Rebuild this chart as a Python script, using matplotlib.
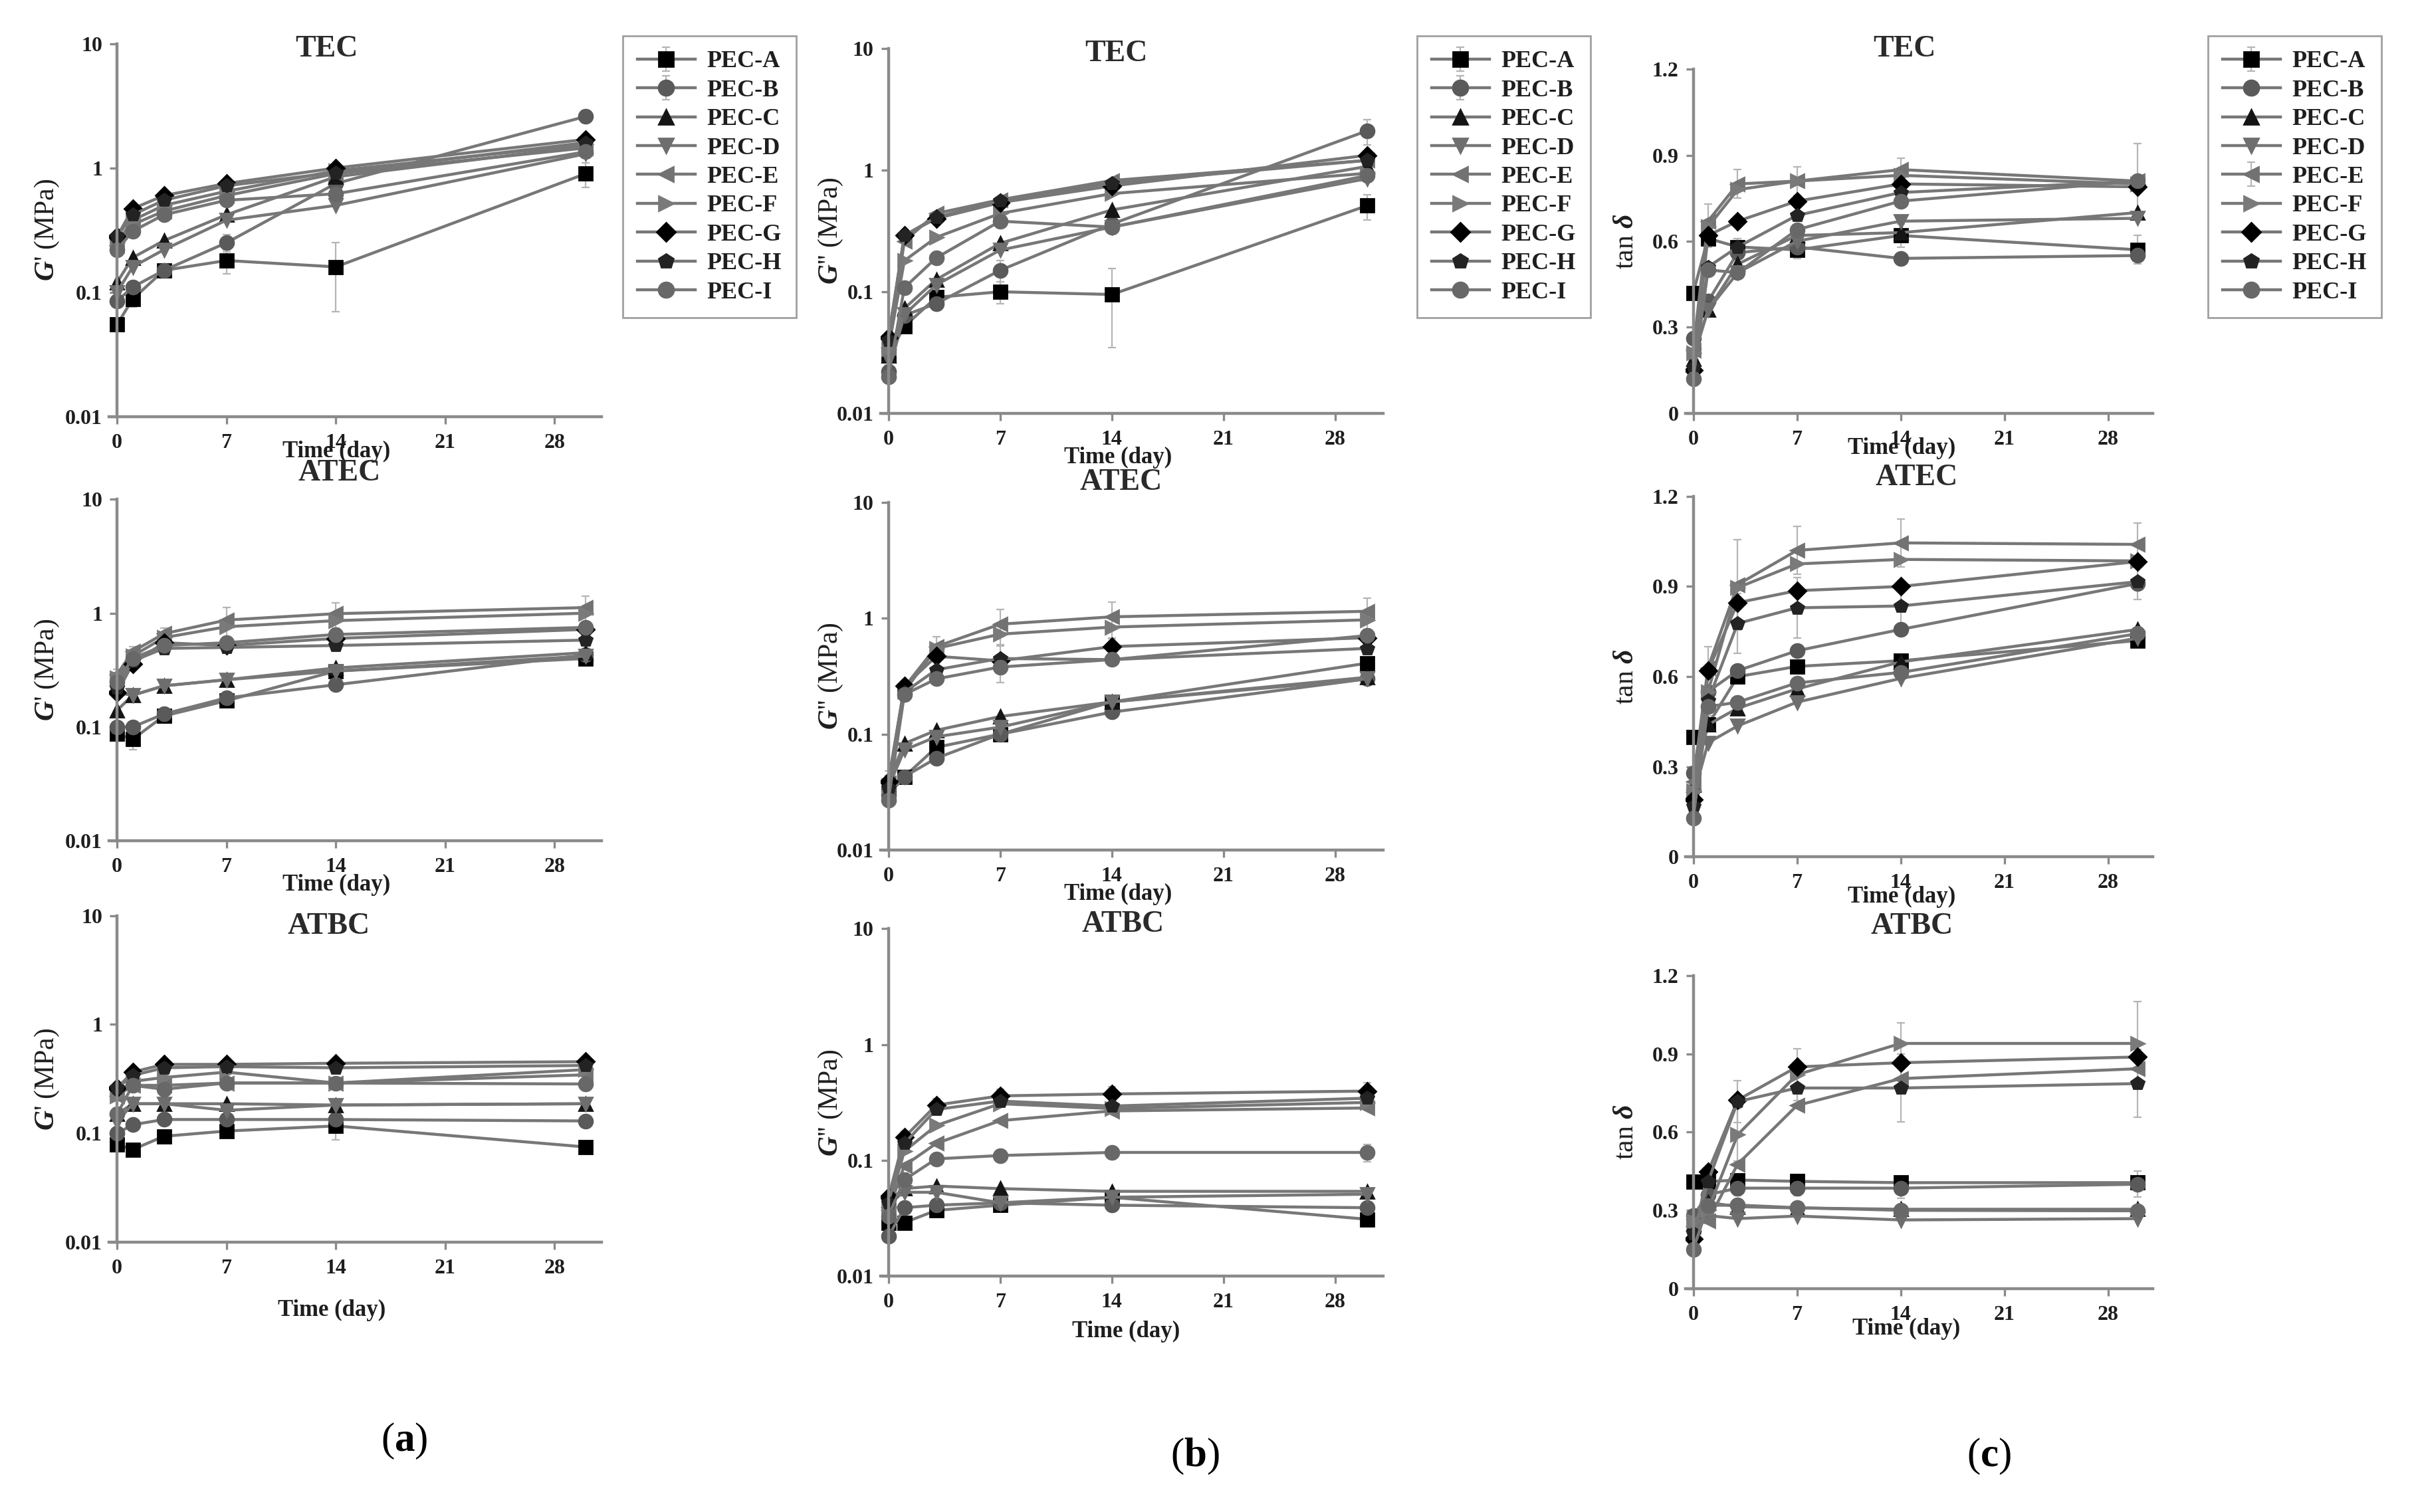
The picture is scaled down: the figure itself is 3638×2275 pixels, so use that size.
import numpy as np
import matplotlib.pyplot as plt
from matplotlib.ticker import NullLocator

plt.rcParams['font.family'] = ['Liberation Serif', 'DejaVu Serif']
plt.rcParams['font.weight'] = 'bold'
plt.rcParams['mathtext.fontset'] = 'custom'
plt.rcParams['mathtext.rm'] = 'Liberation Serif'
plt.rcParams['mathtext.it'] = 'Liberation Serif:italic:bold'
plt.rcParams['mathtext.bf'] = 'Liberation Serif:bold'

days = [0, 1, 3, 7, 14, 30]
series = ['PEC-A', 'PEC-B', 'PEC-C', 'PEC-D', 'PEC-E', 'PEC-F', 'PEC-G', 'PEC-H', 'PEC-I']
markers = ['s', 'o', '^', 'v', '<', '>', 'D', 'p', 'o']
marker_colors = ['#000000', '#5a5a5a', '#151515', '#6e6e6e', '#727272',
                 '#7a7a7a', '#000000', '#232323', '#686868']

# G' (MPa)
gp_tec = {
    'PEC-A': [0.055, 0.088, 0.15, 0.18, 0.16, 0.9],
    'PEC-B': [0.085, 0.11, 0.15, 0.25, 0.75, 2.6],
    'PEC-C': [0.12, 0.19, 0.26, 0.42, 0.85, 1.5],
    'PEC-D': [0.10, 0.16, 0.22, 0.38, 0.5, 1.3],
    'PEC-E': [0.24, 0.35, 0.45, 0.6, 0.9, 1.45],
    'PEC-F': [0.25, 0.38, 0.5, 0.65, 0.95, 1.55],
    'PEC-G': [0.28, 0.47, 0.6, 0.75, 1.0, 1.7],
    'PEC-H': [0.28, 0.42, 0.55, 0.72, 0.92, 1.6],
    'PEC-I': [0.22, 0.31, 0.42, 0.55, 0.62, 1.35],
}
gp_atec = {
    'PEC-A': [0.087, 0.078, 0.125, 0.17, 0.31, 0.40],
    'PEC-B': [0.10, 0.10, 0.13, 0.18, 0.235, 0.43],
    'PEC-C': [0.14, 0.19, 0.23, 0.26, 0.33, 0.45],
    'PEC-D': [0.20, 0.19, 0.23, 0.26, 0.31, 0.42],
    'PEC-E': [0.29, 0.46, 0.66, 0.87, 0.99, 1.12],
    'PEC-F': [0.27, 0.42, 0.61, 0.76, 0.86, 1.0],
    'PEC-G': [0.20, 0.36, 0.55, 0.52, 0.6, 0.72],
    'PEC-H': [0.22, 0.38, 0.49, 0.5, 0.52, 0.58],
    'PEC-I': [0.25, 0.40, 0.52, 0.55, 0.65, 0.75],
}
gp_atbc = {
    'PEC-A': [0.079, 0.071, 0.094, 0.105, 0.117, 0.075],
    'PEC-B': [0.10, 0.12, 0.134, 0.134, 0.134, 0.13],
    'PEC-C': [0.15, 0.187, 0.187, 0.187, 0.182, 0.187],
    'PEC-D': [0.127, 0.187, 0.187, 0.163, 0.182, 0.187],
    'PEC-E': [0.22, 0.276, 0.276, 0.29, 0.29, 0.345],
    'PEC-F': [0.22, 0.30, 0.326, 0.365, 0.29, 0.385],
    'PEC-G': [0.26, 0.365, 0.43, 0.43, 0.44, 0.455],
    'PEC-H': [0.26, 0.34, 0.40, 0.41, 0.40, 0.42],
    'PEC-I': [0.15, 0.276, 0.254, 0.29, 0.29, 0.284],
}

# G'' (MPa)
gpp_tec = {
    'PEC-A': [0.030, 0.052, 0.09, 0.10, 0.095, 0.51],
    'PEC-B': [0.022, 0.064, 0.08, 0.15, 0.36, 2.1],
    'PEC-C': [0.030, 0.073, 0.126, 0.25, 0.47, 1.07],
    'PEC-D': [0.028, 0.065, 0.114, 0.22, 0.34, 0.85],
    'PEC-E': [0.035, 0.26, 0.44, 0.57, 0.82, 1.2],
    'PEC-F': [0.034, 0.18, 0.28, 0.44, 0.64, 0.94],
    'PEC-G': [0.042, 0.29, 0.40, 0.54, 0.74, 1.32],
    'PEC-H': [0.040, 0.29, 0.41, 0.56, 0.78, 1.2],
    'PEC-I': [0.020, 0.108, 0.19, 0.38, 0.34, 0.9],
}
gpp_atec = {
    'PEC-A': [0.034, 0.043, 0.077, 0.10, 0.19, 0.41],
    'PEC-B': [0.030, 0.043, 0.062, 0.10, 0.155, 0.30],
    'PEC-C': [0.039, 0.083, 0.108, 0.142, 0.19, 0.31],
    'PEC-D': [0.035, 0.073, 0.095, 0.115, 0.19, 0.30],
    'PEC-E': [0.038, 0.254, 0.57, 0.89, 1.03, 1.15],
    'PEC-F': [0.036, 0.235, 0.55, 0.73, 0.84, 0.97],
    'PEC-G': [0.039, 0.26, 0.47, 0.43, 0.57, 0.68],
    'PEC-H': [0.034, 0.23, 0.36, 0.45, 0.44, 0.55],
    'PEC-I': [0.027, 0.22, 0.30, 0.38, 0.44, 0.71],
}
gpp_atbc = {
    'PEC-A': [0.029, 0.029, 0.037, 0.041, 0.048, 0.031],
    'PEC-B': [0.022, 0.039, 0.041, 0.043, 0.041, 0.039],
    'PEC-C': [0.045, 0.057, 0.060, 0.057, 0.054, 0.054],
    'PEC-D': [0.043, 0.053, 0.053, 0.043, 0.048, 0.051],
    'PEC-E': [0.037, 0.09, 0.14, 0.22, 0.267, 0.283],
    'PEC-F': [0.040, 0.12, 0.2, 0.308, 0.28, 0.316],
    'PEC-G': [0.048, 0.158, 0.3, 0.36, 0.374, 0.396],
    'PEC-H': [0.043, 0.14, 0.275, 0.325, 0.294, 0.344],
    'PEC-I': [0.033, 0.068, 0.103, 0.11, 0.117, 0.117],
}

# tan delta
tan_tec = {
    'PEC-A': [0.42, 0.61, 0.58, 0.57, 0.62, 0.57],
    'PEC-B': [0.26, 0.39, 0.56, 0.58, 0.54, 0.55],
    'PEC-C': [0.19, 0.36, 0.52, 0.62, 0.63, 0.70],
    'PEC-D': [0.20, 0.36, 0.49, 0.60, 0.67, 0.68],
    'PEC-E': [0.22, 0.67, 0.80, 0.81, 0.85, 0.81],
    'PEC-F': [0.21, 0.65, 0.78, 0.81, 0.83, 0.80],
    'PEC-G': [0.15, 0.62, 0.67, 0.74, 0.80, 0.79],
    'PEC-H': [0.16, 0.51, 0.58, 0.69, 0.77, 0.81],
    'PEC-I': [0.12, 0.50, 0.49, 0.64, 0.74, 0.81],
}
tan_atec = {
    'PEC-A': [0.40, 0.44, 0.60, 0.634, 0.653, 0.72],
    'PEC-B': [0.28, 0.55, 0.62, 0.686, 0.757, 0.91],
    'PEC-C': [0.24, 0.44, 0.495, 0.559, 0.649, 0.757],
    'PEC-D': [0.20, 0.38, 0.436, 0.515, 0.594, 0.728],
    'PEC-E': [0.25, 0.63, 0.906, 1.02, 1.045, 1.04],
    'PEC-F': [0.22, 0.55, 0.896, 0.975, 0.99, 0.985],
    'PEC-G': [0.19, 0.62, 0.846, 0.886, 0.90, 0.983],
    'PEC-H': [0.17, 0.52, 0.777, 0.829, 0.835, 0.916],
    'PEC-I': [0.13, 0.50, 0.515, 0.579, 0.614, 0.743],
}
tan_atbc = {
    'PEC-A': [0.41, 0.41, 0.416, 0.411, 0.406, 0.406],
    'PEC-B': [0.28, 0.36, 0.385, 0.385, 0.385, 0.40],
    'PEC-C': [0.25, 0.33, 0.314, 0.309, 0.304, 0.304],
    'PEC-D': [0.24, 0.28, 0.268, 0.278, 0.263, 0.268],
    'PEC-E': [0.24, 0.26, 0.477, 0.702, 0.805, 0.843],
    'PEC-F': [0.26, 0.30, 0.59, 0.82, 0.94, 0.94],
    'PEC-G': [0.19, 0.447, 0.723, 0.85, 0.866, 0.888],
    'PEC-H': [0.21, 0.41, 0.717, 0.769, 0.769, 0.786],
    'PEC-I': [0.15, 0.319, 0.32, 0.31, 0.30, 0.298],
}

# visible error bars (standard deviation), other points have bars hidden by markers
err_gp_tec = {'PEC-A': [0.005, 0.012, 0.02, 0.04, 0.09, 0.2], 'PEC-B': [0.01, 0.01, 0.02, 0.04, 0.1, 0.3]}
err_gp_atec = {'PEC-E': [0.03, 0.05, 0.08, 0.25, 0.25, 0.3], 'PEC-A': [0.01, 0.015, 0.01, 0.02, 0.03, 0.05]}
err_gp_atbc = {'PEC-A': [0.005, 0.008, 0.01, 0.01, 0.03, 0.01]}
err_gpp_tec = {'PEC-A': [0.003, 0.005, 0.01, 0.02, 0.06, 0.12], 'PEC-B': [0.003, 0.01, 0.01, 0.03, 0.05, 0.5]}
err_gpp_atec = {'PEC-E': [0.01, 0.03, 0.12, 0.3, 0.35, 0.35], 'PEC-G': [0.005, 0.03, 0.1, 0.15, 0.1, 0.1]}
err_gpp_atbc = {'PEC-G': [0.005, 0.02, 0.04, 0.05, 0.06, 0.07], 'PEC-I': [0.003, 0.01, 0.01, 0.01, 0.015, 0.02]}
err_tan_tec = {'PEC-E': [0.03, 0.06, 0.05, 0.05, 0.04, 0.13], 'PEC-A': [0.02, 0.03, 0.03, 0.03, 0.04, 0.05]}
err_tan_atec = {'PEC-E': [0.03, 0.07, 0.15, 0.08, 0.08, 0.07], 'PEC-H': [0.03, 0.05, 0.1, 0.1, 0.08, 0.06]}
err_tan_atbc = {'PEC-F': [0.02, 0.05, 0.1, 0.1, 0.08, 0.16], 'PEC-H': [0.02, 0.03, 0.08, 0.07, 0.13, 0.13],
                'PEC-B': [0.02, 0.03, 0.03, 0.03, 0.04, 0.05]}

SW, SH = 1568.0, 981.0
line_col = '#777777'
axis_col = '#8a8a8a'
text_col = '#1e1e1e'

fig = plt.figure(figsize=(18.19, 11.375), dpi=200)


def fx(x):
    return x / SW


def fy(y):
    return 1 - y / SH


def add_panel(x0, ppd, ytop, ybot):
    # rect in the reference's (shrunk) pixel frame, x limits -0.5 .. 31 days
    left = x0 - 0.5 * ppd
    right = x0 + 31 * ppd
    return fig.add_axes([fx(left), fy(ybot), (right - left) / SW, (ybot - ytop) / SH])


def draw(ax, data, errs, log, ylabel, ylab_x):
    for name, mk, mc in zip(series, markers, marker_colors):
        yerr = errs.get(name)
        ax.errorbar(days, data[name], yerr=yerr, color=line_col, lw=1.6, marker=mk,
                    mfc=mc, mec=mc, ms=7.5 if mk != 'D' else 6.5,
                    ecolor='#b5b5b5', elinewidth=0.8, capsize=2, capthick=0.8, label=name)
    ax.set_xlim(-0.5, 31)
    ax.set_xticks([0, 7, 14, 21, 28])
    if log:
        ax.set_yscale('log')
        ax.set_ylim(0.01, 10)
        ax.set_yticks([0.01, 0.1, 1, 10])
        ax.set_yticklabels(['0.01', '0.1', '1', '10'])
        ax.yaxis.set_minor_locator(NullLocator())
    else:
        ax.set_ylim(0, 1.2)
        ax.set_yticks([0, 0.3, 0.6, 0.9, 1.2])
        ax.set_yticklabels(['0', '0.3', '0.6', '0.9', '1.2'])
    for s in ['top', 'right']:
        ax.spines[s].set_visible(False)
    ax.spines['left'].set_position(('data', 0))
    for s in ['left', 'bottom']:
        ax.spines[s].set_color(axis_col)
        ax.spines[s].set_linewidth(1.6)
    ax.tick_params(direction='out', length=4, width=1.2, color=axis_col,
                   labelsize=11.5, labelcolor=text_col, pad=4)
    ax.tick_params(axis='x', pad=5)
    ax.set_ylabel(ylabel, fontsize=15, color=text_col)
    bb = ax.get_position()
    ax.yaxis.set_label_coords(fx(ylab_x), bb.y0 + bb.height / 2, transform=fig.transFigure)
    ax.set_facecolor('none')


gp_label = r"$G$' (MPa)"
gpp_label = r"$G$'' (MPa)"
tan_label = r"tan $\delta$"

cols = [
    (75.9, 10.13, [(28.4, 270.2), (324, 545.5), (594, 806)], [gp_tec, gp_atec, gp_atbc],
     [err_gp_tec, err_gp_atec, err_gp_atbc], True, gp_label, 39.5),
    (576.1, 10.35, [(31.3, 268.3), (326, 551.5), (602.5, 828)], [gpp_tec, gpp_atec, gpp_atbc],
     [err_gpp_tec, err_gpp_atec, err_gpp_atbc], True, gpp_label, 548),
    (1098, 9.61, [(45, 268), (322, 556), (633, 836)], [tan_tec, tan_atec, tan_atbc],
     [err_tan_tec, err_tan_atec, err_tan_atbc], False, tan_label, 1063),
]
titles = ['TEC', 'ATEC', 'ATBC']
title_pos = [[(212, 32), (220, 307), (213, 601)],
             [(724, 35), (727, 313), (728, 600)],
             [(1235, 32), (1243, 310), (1240, 601)]]
xlab_pos = [[(218, 293), (218, 574), (215, 850)],
            [(725, 297), (725, 580), (730, 864)],
            [(1233, 291), (1233, 582), (1236, 862)]]
legend_left = [404, 919, 1432]
letters = ['a', 'b', 'c']
letter_pos = [(262, 935), (775, 945), (1290, 945)]

for c, (x0, ppd, rows, datas, errs, log, ylab, ylx) in enumerate(cols):
    for r in range(3):
        ax = add_panel(x0, ppd, rows[r][0], rows[r][1])
        draw(ax, datas[r], errs[r], log, ylab, ylx)
        tx, ty = title_pos[c][r]
        fig.text(fx(tx), fy(ty), titles[r], fontsize=16.5, ha='center', va='center', color='#2a2a2a')
        lx, ly = xlab_pos[c][r]
        fig.text(fx(lx), fy(ly), 'Time (day)', fontsize=12.5, ha='center', va='center', color=text_col)
        if r == 0:
            handles, labels = ax.get_legend_handles_labels()
            leg = ax.legend(handles, labels, loc='upper left',
                            bbox_to_anchor=(fx(legend_left[c]), fy(23.5)),
                            bbox_transform=fig.transFigure, borderaxespad=0,
                            fontsize=13, handlelength=2.4, labelspacing=0.28,
                            borderpad=0.6, handletextpad=0.5, fancybox=False,
                            markerscale=1.1, edgecolor='#a0a0a0', framealpha=1)
            leg.get_frame().set_linewidth(1.0)
            for t in leg.get_texts():
                t.set_color(text_col)
    px, py = letter_pos[c]
    fig.text(fx(px), fy(py), '(' + r'$\mathbf{' + letters[c] + '}$' + ')',
             fontsize=22, fontweight='normal', ha='center', va='center', color='black')

fig.savefig('out.png', dpi=200, facecolor='white')
